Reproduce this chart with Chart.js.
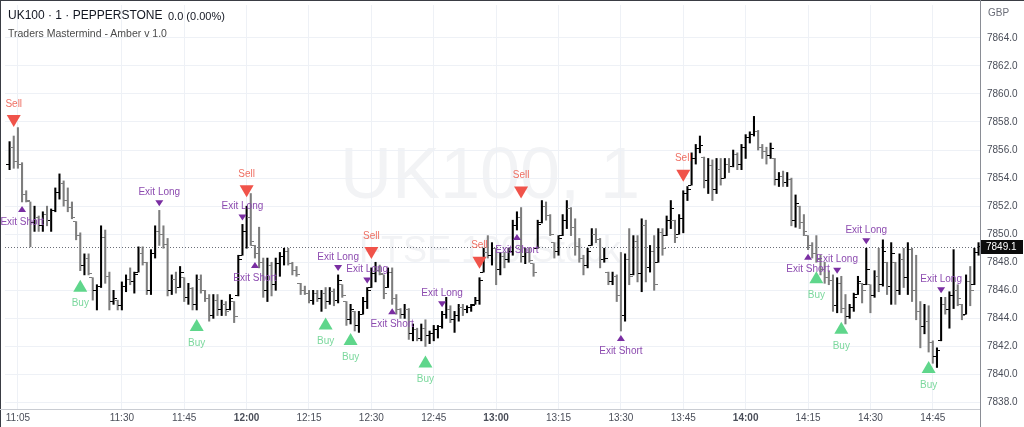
<!DOCTYPE html>
<html lang="en">
<head>
<meta charset="utf-8">
<title>UK100 · 1 · PEPPERSTONE</title>
<script src="https://cdn.jsdelivr.net/npm/chart.js@4.4.1/dist/chart.umd.min.js"></script>
<style>
  html, body { margin: 0; padding: 0; background: #fff; }
  #wrap { position: relative; width: 1024px; height: 427px; overflow: hidden; font-family: "Liberation Sans", Arial, sans-serif; }
  #chart { position: absolute; left: 0; top: 0; }
  .txt { position: absolute; white-space: nowrap; line-height: 14px; }
</style>
</head>
<body>
<div id="wrap">
  <canvas id="chart" width="1024" height="427"></canvas>
  <div class="txt" style="left:8px;top:8px;font-size:12px;color:#131722">UK100 · 1 · PEPPERSTONE</div>
  <div class="txt" style="left:168px;top:9px;font-size:11px;color:#131722">0.0 (0.00%)</div>
  <div class="txt" style="left:8px;top:26px;font-size:10.5px;color:#4a4a4a">Traders Mastermind - Amber v 1.0</div>
  <div class="txt" style="left:988px;top:6px;font-size:10px;color:#6a6d78">GBP</div>
</div>
<script>
// 1 minute bars, first one at 11:03
const startMinute = 11 * 60 + 3;

const opens = [
  7855.0,7856.2,7855.2,7855.0,7852.8,7852.3,7850.8,7851.2,7850.6,7851.4,
  7851.0,7851.7,7853.0,7853.6,7852.4,7851.9,7850.9,7849.9,7847.8,7848.3,
  7846.9,7846.0,7846.3,7849.8,7847.0,7845.2,7845.3,7844.9,7846.3,7846.8,
  7846.6,7847.3,7848.6,7848.0,7846.0,7848.6,7850.2,7850.0,7849.3,7846.0,
  7846.8,7846.2,7846.9,7845.5,7846.1,7845.0,7846.8,7846.0,7845.4,7844.2,
  7845.3,7844.6,7845.0,7844.6,7845.2,7845.6,7848.5,7850.2,7851.2,7849.2,
  7848.6,7848.0,7846.0,7847.8,7846.4,7847.9,7848.4,7848.8,7847.9,7847.4,
  7846.5,7846.0,7845.8,7845.3,7845.8,7845.4,7845.8,7845.2,7845.9,7845.3,
  7846.4,7845.2,7843.9,7844.5,7843.5,7844.3,7845.2,7846.2,7847.2,7847.4,
  7847.1,7846.2,7847.3,7845.4,7844.6,7844.3,7844.6,7842.9,7843.2,7842.6,
  7843.3,7842.8,7842.9,7843.2,7843.4,7844.3,7844.6,7843.9,7844.2,7844.8,
  7844.6,7844.8,7845.0,7845.3,7847.3,7848.7,7848.5,7849.0,7847.5,7848.4,
  7848.2,7848.8,7850.6,7851.2,7848.4,7848.7,7847.9,7849.0,7850.8,7852.0,
  7851.3,7849.4,7848.8,7849.9,7851.0,7851.8,7850.5,7849.1,7848.3,7847.8,
  7849.2,7850.0,7849.6,7848.2,7847.3,7846.6,7847.0,7845.6,7844.2,7848.2,
  7847.1,7849.5,7847.2,7850.6,7847.6,7848.8,7848.0,7850.1,7849.9,7851.0,
  7851.0,7850.0,7851.1,7852.9,7853.5,7855.4,7856.1,7855.5,7853.8,7854.9,
  7853.2,7854.6,7854.0,7855.0,7854.8,7855.7,7855.0,7856.2,7856.9,7857.1,
  7857.3,7856.2,7855.9,7855.6,7855.4,7853.9,7854.1,7853.7,7853.9,7851.0,
  7852.0,7850.8,7849.9,7849.2,7848.6,7848.2,7847.5,7846.9,7846.7,7844.9,
  7846.5,7844.7,7844.1,7844.8,7845.7,7846.5,7846.4,7846.4,7845.6,7847.0,
  7846.4,7848.0,7846.3,7848.0,7846.0,7848.2,7846.9,7848.9,7846.0,7844.5,
  7843.4,7843.8,7842.3,7841.3,7842.4,7845.0,7844.6,7845.6,7846.0,7845.0,
  7844.3,7846.6,7846.4,7848.7
];
const highs = [
  7856.6,7857.0,7857.6,7855.1,7853.1,7852.3,7852.0,7851.3,7851.6,7852.0,
  7851.8,7853.3,7854.3,7853.8,7853.3,7852.3,7850.9,7850.1,7848.6,7848.6,
  7846.9,7846.4,7850.6,7850.3,7847.3,7846.0,7845.3,7846.6,7847.1,7847.6,
  7847.3,7849.1,7849.1,7848.0,7848.9,7850.6,7851.7,7850.6,7849.7,7847.1,
  7847.3,7847.7,7846.9,7846.5,7846.2,7847.1,7847.1,7846.0,7845.7,7845.7,
  7845.7,7845.3,7845.2,7845.7,7845.2,7848.5,7850.7,7852.0,7852.9,7849.2,
  7850.5,7848.3,7848.3,7848.0,7848.3,7848.7,7849.0,7849.0,7848.0,7847.7,
  7846.5,7846.3,7846.0,7846.0,7846.0,7846.0,7846.2,7846.2,7846.1,7847.1,
  7846.4,7845.2,7845.0,7844.5,7844.5,7845.5,7846.2,7847.6,7848.0,7847.8,
  7847.1,7847.6,7847.6,7845.7,7844.7,7845.0,7844.7,7843.6,7843.3,7843.6,
  7843.9,7843.1,7843.5,7843.5,7844.5,7845.5,7844.9,7844.5,7845.0,7845.0,
  7844.9,7845.0,7845.5,7846.9,7849.0,7849.9,7849.4,7849.0,7848.7,7848.7,
  7849.0,7851.0,7851.6,7851.9,7849.0,7849.0,7847.9,7851.0,7852.4,7852.3,
  7851.4,7849.4,7849.9,7851.4,7852.4,7851.9,7851.1,7849.7,7848.5,7849.0,
  7850.4,7850.4,7849.7,7849.0,7847.3,7847.3,7847.1,7848.7,7848.6,7850.4,
  7849.9,7849.9,7851.1,7851.0,7849.2,7849.9,7850.4,7850.4,7851.3,7852.4,
  7851.0,7851.4,7853.1,7853.4,7855.8,7856.4,7857.0,7855.5,7855.4,7855.3,
  7855.4,7855.4,7855.4,7855.4,7856.0,7855.8,7856.4,7857.1,7857.3,7858.4,
  7857.4,7856.4,7856.2,7856.5,7855.4,7854.4,7854.5,7854.4,7854.0,7852.8,
  7852.0,7851.4,7849.9,7849.4,7849.9,7848.5,7848.0,7847.4,7847.1,7846.9,
  7847.0,7845.7,7845.0,7845.8,7847.0,7846.5,7849.0,7846.4,7847.4,7849.0,
  7849.6,7848.0,7849.4,7848.0,7848.6,7849.0,7849.4,7849.0,7848.5,7845.2,
  7845.0,7844.9,7842.4,7841.9,7845.5,7845.5,7845.9,7848.9,7846.4,7845.0,
  7847.1,7847.7,7849.0,7849.4
];
const lows = [
  7854.6,7854.7,7854.7,7852.3,7852.3,7849.1,7850.2,7850.2,7850.2,7850.6,
  7850.2,7851.6,7852.5,7852.0,7851.6,7851.1,7849.6,7847.4,7847.1,7847.1,
  7845.3,7844.6,7846.2,7846.5,7844.6,7845.0,7844.6,7844.6,7845.9,7846.4,
  7845.8,7847.3,7847.8,7845.7,7845.7,7848.3,7849.2,7849.0,7845.6,7845.7,
  7845.8,7846.2,7845.2,7845.0,7844.6,7844.6,7845.8,7845.2,7843.8,7844.0,
  7844.2,7844.2,7844.2,7844.6,7843.7,7845.6,7848.5,7849.0,7849.2,7848.3,
  7847.6,7845.5,7845.2,7845.6,7846.0,7847.0,7847.8,7847.8,7847.1,7847.0,
  7845.7,7845.7,7845.1,7845.0,7845.2,7844.5,7844.7,7845.0,7844.9,7845.1,
  7845.5,7843.5,7843.6,7843.1,7843.0,7844.3,7844.7,7846.2,7846.6,7847.1,
  7845.4,7846.2,7845.0,7844.3,7844.0,7844.0,7842.5,7842.4,7842.4,7842.4,
  7842.0,7842.2,7842.4,7842.6,7843.3,7844.0,7843.7,7843.0,7843.8,7844.2,
  7844.4,7844.5,7845.0,7845.0,7847.3,7848.3,7847.8,7846.4,7847.1,7847.6,
  7848.0,7848.5,7850.3,7848.0,7847.9,7848.0,7847.0,7849.0,7850.8,7851.0,
  7849.9,7848.3,7848.5,7849.9,7850.4,7849.9,7848.5,7848.0,7847.1,7847.6,
  7849.2,7849.4,7847.6,7848.0,7846.4,7846.4,7845.2,7843.1,7843.8,7846.4,
  7847.1,7846.6,7845.9,7846.6,7847.3,7846.0,7848.0,7848.5,7849.9,7850.4,
  7849.4,7850.0,7850.1,7852.4,7853.5,7855.0,7855.8,7853.3,7852.9,7852.4,
  7852.9,7853.5,7854.0,7854.4,7854.8,7854.6,7854.6,7855.4,7856.5,7857.0,
  7856.0,7855.4,7855.0,7855.4,7853.5,7853.4,7853.4,7853.4,7850.6,7850.5,
  7850.4,7849.9,7848.9,7848.3,7848.0,7847.1,7846.5,7846.4,7844.5,7844.4,
  7844.4,7843.6,7844.0,7844.5,7845.7,7845.1,7846.4,7844.4,7845.5,7845.9,
  7846.3,7845.7,7845.0,7845.0,7845.7,7846.2,7845.7,7845.2,7843.9,7841.9,
  7842.9,7841.6,7840.8,7840.5,7842.4,7844.3,7843.3,7844.7,7844.9,7843.9,
  7844.3,7844.9,7846.4,7848.5
];
const closes = [
  7856.2,7855.2,7855.0,7852.8,7852.4,7850.8,7851.2,7850.6,7851.4,7851.0,
  7851.7,7853.0,7853.6,7852.4,7851.9,7851.2,7849.9,7847.8,7848.3,7847.2,
  7846.0,7846.3,7849.8,7847.0,7845.2,7845.4,7844.9,7846.3,7846.8,7846.6,
  7847.1,7848.6,7848.0,7846.0,7848.6,7850.2,7850.0,7849.3,7846.0,7846.8,
  7846.2,7847.3,7845.5,7846.1,7845.0,7846.8,7846.0,7845.4,7844.2,7845.3,
  7844.6,7845.0,7844.5,7845.4,7844.1,7848.2,7850.2,7851.2,7849.5,7848.6,
  7848.0,7846.0,7847.8,7846.4,7847.9,7848.4,7848.8,7847.9,7847.4,7847.1,
  7846.0,7845.8,7845.3,7845.8,7845.4,7845.8,7845.2,7845.9,7845.3,7846.7,
  7845.6,7843.9,7844.6,7843.5,7844.3,7845.2,7846.0,7847.2,7847.4,7847.2,
  7845.8,7847.3,7845.4,7844.6,7844.3,7844.6,7842.9,7843.2,7842.6,7843.3,
  7842.8,7842.9,7843.2,7843.4,7844.3,7844.6,7843.9,7844.2,7844.8,7844.6,
  7844.8,7844.9,7845.3,7846.7,7848.7,7848.5,7849.0,7847.5,7848.4,7848.2,
  7848.8,7850.6,7851.2,7848.4,7848.7,7848.1,7847.3,7850.7,7852.0,7851.3,
  7850.0,7848.8,7849.7,7851.0,7851.8,7850.5,7849.1,7848.3,7847.8,7848.8,
  7850.0,7849.6,7848.2,7848.3,7846.6,7847.0,7845.6,7844.2,7848.2,7847.0,
  7849.5,7847.2,7850.6,7847.6,7848.8,7846.4,7850.1,7849.0,7851.0,7851.8,
  7849.8,7851.1,7852.9,7853.2,7855.4,7856.1,7856.3,7853.8,7854.9,7853.2,
  7854.6,7854.0,7855.0,7854.8,7855.7,7855.0,7856.2,7856.9,7857.1,7857.3,
  7856.2,7855.9,7855.6,7856.1,7853.9,7854.1,7853.7,7853.9,7851.0,7852.2,
  7850.8,7850.2,7849.2,7848.6,7848.2,7847.5,7846.9,7846.7,7844.9,7846.5,
  7844.7,7844.1,7844.8,7845.5,7846.6,7846.0,7847.5,7845.6,7847.0,7846.4,
  7848.8,7846.3,7848.6,7846.0,7848.2,7846.9,7848.9,7846.0,7844.5,7843.4,
  7843.8,7842.3,7841.3,7841.7,7845.0,7844.6,7845.6,7846.0,7845.4,7844.2,
  7846.6,7846.0,7848.7,7849.1
];

const axisTimes = ['11:05','11:30','11:45','12:00','12:15','12:30','12:45','13:00','13:15','13:30','13:45','14:00','14:15','14:30','14:45'];
const priceTicks = [7838,7840,7842,7844,7846,7848,7850,7852,7854,7856,7858,7860,7862,7864];

const signalBars = [1,3,17,36,45,56,57,59,76,79,82,86,87,92,100,104,113,122,123,147,162,192,194,199,200,206,221,224];
const signalTypes = ['Sell','Exit Short','Buy','Exit Long','Buy','Exit Long','Sell','Exit Short','Buy','Exit Long',
  'Buy','Exit Long','Sell','Exit Short','Buy','Exit Long','Sell','Exit Short','Sell','Exit Short',
  'Sell','Exit Short','Buy','Exit Long','Buy','Exit Long','Buy','Exit Long'];

const timeLabels = highs.map((_, i) => {
  const m = startMinute + i;
  return String(Math.floor(m / 60)).padStart(2, '0') + ':' + String(m % 60).padStart(2, '0');
});
const lastPrice = closes[closes.length - 1];

const FONT = '"Liberation Sans", Arial, sans-serif';
const UP = '#000000', DOWN = '#7d7d7d';
const isUp = i => closes[i] >= opens[i];
const barColors = closes.map((c, i) => isUp(i) ? UP : DOWN);

// little horizontal ticks for open (left) and close (right)
function tickImage(color, left) {
  const c = document.createElement('canvas');
  c.width = 7; c.height = 1;
  const g = c.getContext('2d');
  g.fillStyle = color;
  g.fillRect(left ? 0 : 4, 0, 3, 1);
  return c;
}
const openUp = tickImage(UP, true), openDown = tickImage(DOWN, true);
const closeUp = tickImage(UP, false), closeDown = tickImage(DOWN, false);

const watermark = {
  id: 'watermark',
  beforeDraw(chart) {
    const ctx = chart.ctx;
    ctx.save();
    ctx.fillStyle = '#f2f3f5';
    ctx.textAlign = 'center';
    ctx.textBaseline = 'alphabetic';
    ctx.font = '72px ' + FONT;
    ctx.fillText('UK100, 1', 490, 198);
    ctx.font = '36px ' + FONT;
    ctx.fillText('FTSE 100 Stock', 490, 262);
    ctx.restore();
  }
};

const priceLine = {
  id: 'priceLine',
  beforeDatasetsDraw(chart) {
    const {ctx, chartArea: a, scales: {y}} = chart;
    const py = Math.round(y.getPixelForValue(lastPrice)) + 0.5;
    ctx.save();
    ctx.strokeStyle = '#6b6e78';
    ctx.lineWidth = 1;
    ctx.setLineDash([1, 2]);
    ctx.beginPath();
    ctx.moveTo(a.left, py);
    ctx.lineTo(a.right, py);
    ctx.stroke();
    ctx.restore();
  },
  afterDraw(chart) {
    const {ctx, chartArea: a, scales: {y}} = chart;
    const py = Math.round(y.getPixelForValue(lastPrice));
    ctx.save();
    // frame lines
    ctx.fillStyle = '#3a3d44';
    ctx.fillRect(0, 0, chart.width, 1);
    ctx.fillRect(0, 0, 1, chart.height);
    ctx.fillStyle = '#c9ccd2';
    ctx.fillRect(0, a.bottom, a.right, 1);
    ctx.fillStyle = '#8a8d95';
    ctx.fillRect(a.right, 0, 1, chart.height);
    // last price box
    ctx.fillStyle = '#0b0b0b';
    ctx.fillRect(a.right + 1, py - 7, 42, 14);
    ctx.fillStyle = '#ffffff';
    ctx.font = '10px ' + FONT;
    ctx.textAlign = 'left';
    ctx.textBaseline = 'middle';
    ctx.fillText(lastPrice.toFixed(1), a.right + 6, py + 0.5);
    ctx.restore();
  }
};

const SIGNAL_STYLE = {
  'Sell':       {above: true,  w: 14, h: 12, gap: 9, tri: '#f0534a', text: '#ef7064', tx: 17},
  'Buy':        {above: false, w: 14, h: 12, gap: 9, tri: '#5fd68b', text: '#7bd89d', tx: 18},
  'Exit Long':  {above: true,  w: 8,  h: 6,  gap: 4, tri: '#7a2ea2', text: '#8d4cb0', tx: 11},
  'Exit Short': {above: false, w: 8,  h: 6,  gap: 4, tri: '#7a2ea2', text: '#8d4cb0', tx: 13}
};

const signals = {
  id: 'signals',
  afterDatasetsDraw(chart) {
    const {ctx, scales: {x, y}} = chart;
    ctx.save();
    ctx.font = '10px ' + FONT;
    ctx.textAlign = 'center';
    ctx.textBaseline = 'middle';
    signalBars.forEach((k, i) => {
      const s = SIGNAL_STYLE[signalTypes[i]];
      const px = x.getPixelForValue(k);
      let cy;
      ctx.fillStyle = s.tri;
      ctx.beginPath();
      if (s.above) {
        const tip = y.getPixelForValue(highs[k]) - s.gap;
        ctx.moveTo(px - s.w / 2, tip - s.h);
        ctx.lineTo(px + s.w / 2, tip - s.h);
        ctx.lineTo(px, tip);
        cy = tip - s.h / 2;
      } else {
        const tip = y.getPixelForValue(lows[k]) + s.gap;
        ctx.moveTo(px, tip);
        ctx.lineTo(px + s.w / 2, tip + s.h);
        ctx.lineTo(px - s.w / 2, tip + s.h);
        cy = tip + s.h / 2;
      }
      ctx.closePath();
      ctx.fill();
      ctx.fillStyle = s.text;
      ctx.fillText(signalTypes[i], px, s.above ? cy - s.tx : cy + s.tx);
    });
    ctx.restore();
  }
};

new Chart(document.getElementById('chart').getContext('2d'), {
  type: 'bar',
  data: {
    datasets: [
      {
        type: 'bar',
        data: highs.map((h, i) => ({x: i, y: [lows[i], h]})),
        backgroundColor: barColors,
        barThickness: 1.4,
        borderWidth: 0,
        order: 2
      },
      {
        type: 'scatter',
        data: opens.map((o, i) => ({x: i, y: o})),
        pointStyle: ctx => isUp(ctx.dataIndex) ? openUp : openDown,
        pointRadius: 2,
        order: 1
      },
      {
        type: 'scatter',
        data: closes.map((c, i) => ({x: i, y: c})),
        pointStyle: ctx => isUp(ctx.dataIndex) ? closeUp : closeDown,
        pointRadius: 2,
        order: 1
      }
    ]
  },
  options: {
    responsive: false,
    animation: false,
    events: [],
    layout: {padding: 0},
    plugins: {legend: {display: false}, tooltip: {enabled: false}},
    scales: {
      x: {
        type: 'linear',
        min: -1.1,
        max: 233.35,
        offset: false,
        grid: {color: '#eef1f6', offset: false, drawTicks: false},
        border: {display: false},
        afterBuildTicks: axis => { axis.ticks = axisTimes.map(t => ({value: timeLabels.indexOf(t)})); },
        afterFit: axis => { axis.height = 18; axis.paddingLeft = 0; axis.paddingRight = 0; },
        ticks: {
          autoSkip: false,
          maxRotation: 0,
          minRotation: 0,
          padding: 3,
          color: '#4a4e59',
          font: ctx => ({family: FONT, size: 10, weight: (timeLabels[ctx.tick && ctx.tick.value] || '').endsWith(':00') ? 'bold' : 'normal'}),
          callback: v => timeLabels[v]
        }
      },
      y: {
        position: 'right',
        min: 7837.54,
        max: 7866.34,
        beginAtZero: false,
        grid: {color: '#eef1f6', drawTicks: false},
        border: {display: false},
        afterBuildTicks: axis => { axis.ticks = priceTicks.map(v => ({value: v})); },
        afterFit: axis => { axis.width = 44; axis.paddingTop = 0; axis.paddingBottom = 0; },
        ticks: {
          padding: 7,
          color: '#4a4e59',
          font: {family: FONT, size: 10},
          callback: v => v.toFixed(1)
        }
      }
    }
  },
  plugins: [watermark, priceLine, signals]
});
</script>
</body>
</html>
